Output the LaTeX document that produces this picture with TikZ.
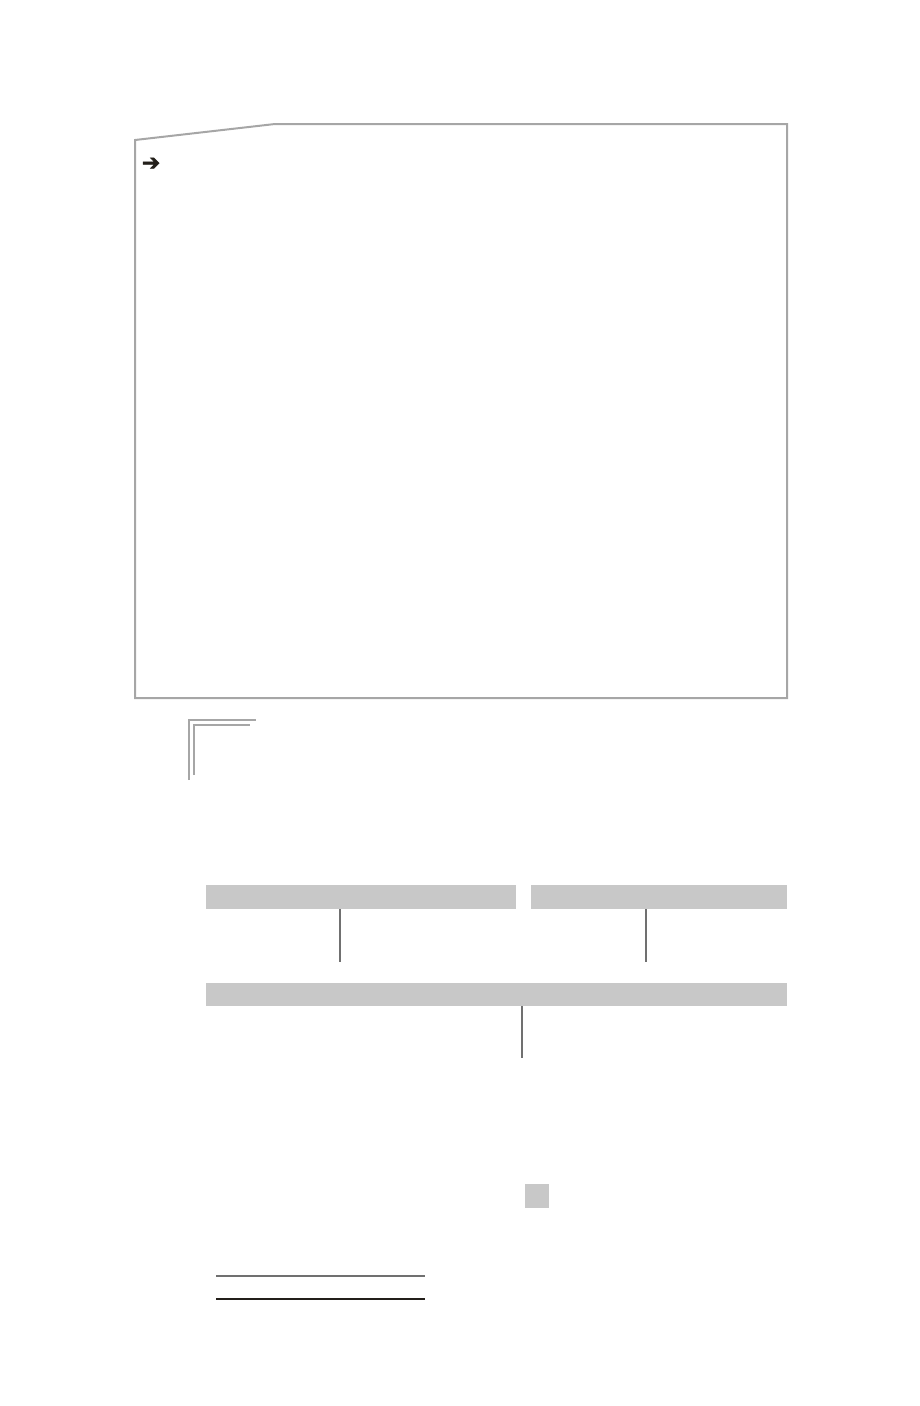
\documentclass[tikz,border=0pt]{standalone}
\usepackage{fontspec}
\newfontfamily\symfont[FakeBold=2.5]{DejaVu Sans}
\definecolor{framegray}{HTML}{A6A6A6}
\definecolor{barfill}{HTML}{C8C8C8}
\definecolor{stemgray}{HTML}{707070}
\definecolor{inkdark}{HTML}{231F1A}
\tikzset{
    bar/.style={fill=barfill, inner sep=0pt, outer sep=0pt, anchor=north west, minimum height=24pt},
    stem/.style={draw=stemgray, line width=1.2pt},
    frameline/.style={draw=framegray, line width=2pt}
}

\begin{document}
\begin{tikzpicture}[x=1pt, y=-1pt]
    \useasboundingbox (0,0) rectangle (920,1406);
    \draw[frameline] (135,140) -- (275,124) -- (787,124) -- (787,698) -- (135,698) -- cycle;
    \node(arr)[text=inkdark, font=\symfont\fontsize{22}{22}\selectfont, inner sep=0pt] at (151,164) {➔};
    \draw[frameline, line width=1.6pt] (189,780) -- (189,720) -- (256,720);
    \draw[frameline, line width=1.6pt] (194,775) -- (194,725) -- (250,725);
    \node(barA)[bar, minimum width=310pt] at (206,885) {};
    \node(barB)[bar, minimum width=256pt] at (531,885) {};
    \node(barC)[bar, minimum width=581pt, minimum height=23pt] at (206,983) {};
    \coordinate(endA) at (340,962);
    \coordinate(endB) at (646,962);
    \coordinate(endC) at (522,1058);
    \draw[stem] (barA.south -| endA) -- (endA);
    \draw[stem] (barB.south -| endB) -- (endB);
    \draw[stem] (barC.south -| endC) -- (endC);
    \node(box)[fill=barfill, minimum size=24pt, inner sep=0pt] at (537,1196) {};
    \coordinate(ruleAl) at (216,1276);
    \coordinate(ruleAr) at (425,1276);
    \coordinate(ruleBl) at (216,1299);
    \coordinate(ruleBr) at (425,1299);
    \draw[draw=stemgray, line width=1.6pt] (ruleAl) -- (ruleAr);
    \draw[draw=inkdark, line width=1.4pt] (ruleBl) -- (ruleBr);
\end{tikzpicture}
\end{document}
